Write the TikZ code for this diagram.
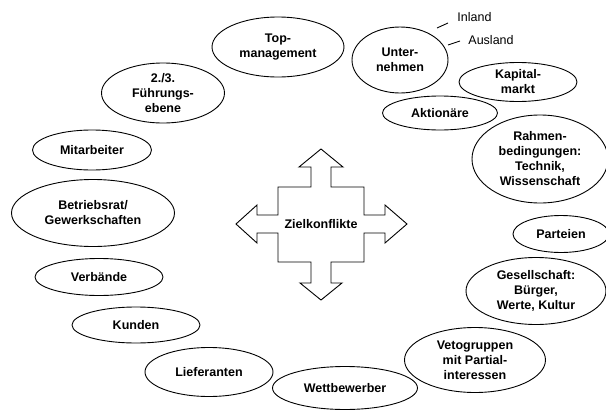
\documentclass[tikz,border=0pt]{standalone}
\usepackage{fontspec}
\setmainfont{Liberation Sans}
\usetikzlibrary{shapes}

\begin{document}
\begin{tikzpicture}[x=1pt, y=-1pt, line width=0.9pt,
	group_node/.style={ellipse, draw, inner sep=0pt, align=center, font=\fontsize{12.5}{15}\selectfont\bfseries},
	side_node/.style={inner sep=0pt, anchor=west, font=\fontsize{12.5}{15}\selectfont}]
				
				\useasboundingbox (0,0) rectangle (606,410);
				
				\node[group_node, minimum width=132, minimum height=60] (top) at (278,47) {Top-\\management};
				\node[group_node, minimum width=96, minimum height=66] (unt) at (400,60) {Unter-\\nehmen};
				\node[group_node, minimum width=118, minimum height=39] (kap) at (518,82) {Kapital-\\markt};
				\node[group_node, minimum width=115, minimum height=34] (akt) at (440,113) {Aktionäre};
				\node[group_node, minimum width=136, minimum height=88] (rah) at (540,159) {Rahmen-\\bedingungen:\\Technik,\\Wissenschaft};
				\node[group_node, minimum width=96, minimum height=37] (par) at (561,234) {Parteien};
				\node[group_node, minimum width=140, minimum height=67] (ges) at (536,291) {Gesellschaft:\\Bürger,\\Werte, Kultur};
				\node[group_node, minimum width=141, minimum height=65] (vet) at (475,360) {Vetogruppen\\mit Partial-\\interessen};
				\node[group_node, minimum width=145, minimum height=43] (wet) at (345,388) {Wettbewerber};
				\node[group_node, minimum width=128, minimum height=49] (lie) at (209,372) {Lieferanten};
				\node[group_node, minimum width=128, minimum height=36] (kun) at (136,325) {Kunden};
				\node[group_node, minimum width=128, minimum height=37] (ver) at (99,277) {Verbände};
				\node[group_node, minimum width=163, minimum height=67] (bet) at (93,213) {Betriebsrat/\\Gewerkschaften};
				\node[group_node, minimum width=119, minimum height=40] (mit) at (92,150) {Mitarbeiter};
				\node[group_node, minimum width=123, minimum height=60] (fue) at (163,93) {2./3.\\Führungs-\\ebene};
				
				% Inland / Ausland
				\node[side_node] (inl) at (457,17) {Inland};
				\node[side_node] (aus) at (468,40) {Ausland};
				\coordinate (inl_a) at (437,28);
				\coordinate (inl_b) at (448,23);
				\coordinate (aus_a) at (448,45);
				\coordinate (aus_b) at (460,41);
				\draw (inl_a) -- (inl_b);
				\draw (aus_a) -- (aus_b);
				
				% Kreuzpfeil
				\begin{scope}[shift={(321,224)}]
					\draw (0,-75) -- (22,-57) -- (10,-57) -- (10,-37) -- (43,-37) -- (43,-9) -- (64,-9) -- (64,-19)
					-- (86,0) -- (64,19) -- (64,9) -- (43,9) -- (43,38) -- (10,38) -- (10,59) -- (21,59)
					-- (0,76) -- (-21,59) -- (-10,59) -- (-10,38) -- (-43,38) -- (-43,9) -- (-64,9) -- (-64,19)
					-- (-85,0) -- (-64,-19) -- (-64,-9) -- (-43,-9) -- (-43,-37) -- (-10,-37) -- (-10,-57) -- (-22,-57) -- cycle;
					\node[font=\fontsize{12.5}{15}\selectfont\bfseries] (ziel) at (0,0) {Zielkonflikte};
				\end{scope}
			\end{tikzpicture}
\end{document}
